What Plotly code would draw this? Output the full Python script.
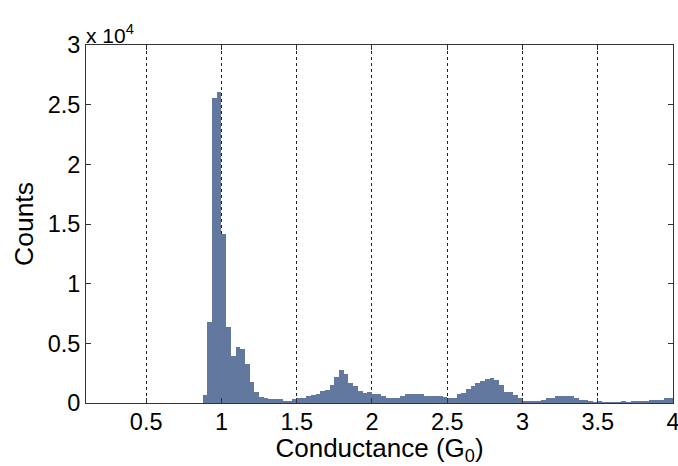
import numpy as np
import plotly.graph_objects as go

bin_width = 0.03125
# counts per bin, bins from 0 to 4 G0 (128 bins)
counts = [0] * 28 + [
    670, 6800, 25600, 26100, 14200, 6350, 3900, 4700, 4500, 3300,
    1800, 950, 480, 390, 340, 340, 340, 200, 200, 350,
    450, 450, 590, 650, 780, 1000, 1090, 1480, 2200, 2740,
    2430, 1700, 1420, 980, 810, 920, 730, 730, 590, 450,
    450, 450, 590, 750, 750, 750, 750, 590, 590, 590,
    590, 475, 450, 450, 730, 810, 1170, 1420, 1700, 1870,
    2010, 2070, 1930, 1510, 950, 950, 670, 390, 170, 170,
    170, 170, 250, 390, 390, 560, 560, 560, 560, 390,
    250, 250, 170, 60, 170, 60, 60, 60, 60, 170,
    60, 170, 170, 170, 170, 220, 220, 220, 390, 390,
]
centers = (np.arange(len(counts)) + 0.5) * bin_width

x_ticks = [0.5, 1, 1.5, 2, 2.5, 3, 3.5, 4]
x_tick_labels = ["0.5", "1", "1.5", "2", "2.5", "3", "3.5", "4"]
y_ticks = [0, 5000, 10000, 15000, 20000, 25000, 30000]
y_tick_labels = ["0", "0.5", "1", "1.5", "2", "2.5", "3"]

font_family = "Liberation Sans, Arial, sans-serif"

fig = go.Figure(
    go.Bar(
        x=centers,
        y=counts,
        width=bin_width,
        marker=dict(color="#63789f", line=dict(width=0)),
    )
)

fig.update_layout(
    width=678,
    height=466,
    margin=dict(l=86, r=5, t=45, b=63, autoexpand=False),
    paper_bgcolor="white",
    plot_bgcolor="white",
    showlegend=False,
    bargap=0,
    font=dict(family=font_family, size=23.5, color="black"),
)

fig.update_xaxes(
    range=[0.1, 4.0002],
    tickvals=x_ticks,
    ticktext=x_tick_labels,
    ticks="inside",
    ticklen=5,
    tickcolor="#333",
    showline=True,
    linecolor="#333",
    linewidth=1,
    mirror="ticks",
    showgrid=True,
    gridcolor="#222",
    griddash="dot",
    gridwidth=1,
    zeroline=False,
    automargin=False,
    ticklabeloverflow="allow",
    tickfont=dict(size=23.5),
    ticklabelstandoff=-2,
    title=dict(text="Conductance (G<sub>0</sub>)", font=dict(size=26), standoff=1),
)

fig.update_yaxes(
    range=[0, 30000],
    tickvals=y_ticks,
    ticktext=y_tick_labels,
    ticks="inside",
    ticklen=5,
    tickcolor="#333",
    showline=True,
    linecolor="#333",
    linewidth=1,
    mirror="ticks",
    showgrid=False,
    zeroline=False,
    automargin=False,
    ticklabeloverflow="allow",
    tickfont=dict(size=23.5),
    title=dict(text="Counts", font=dict(size=26.5), standoff=6),
)

fig.add_annotation(
    text="x 10<sup>4</sup>",
    xref="paper", yref="paper",
    x=0, y=1,
    xanchor="left", yanchor="bottom",
    showarrow=False,
    font=dict(size=21),
    xshift=-2,
    yshift=-4,
)

fig.write_html(
    "out.html",
    config={"displayModeBar": False},
    post_script="document.body.style.margin='0';",
)
